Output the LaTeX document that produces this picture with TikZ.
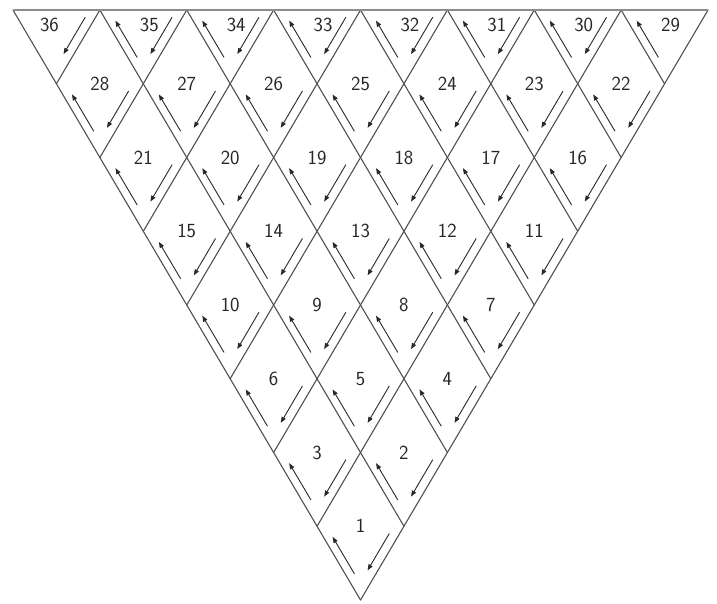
\documentclass[tikz,border=0pt]{standalone}
\usepackage{tikz}
\usetikzlibrary{arrows.meta}
\definecolor{cGrid}{RGB}{80,80,80}
\definecolor{cTop}{RGB}{140,140,140}
\definecolor{cArr}{RGB}{40,40,40}
\tikzset{
  gridline/.style={draw=cGrid,line width=1.1pt,line cap=round},
  topline/.style={draw=cTop,line width=2.2pt},
  uparr/.style={-{Triangle[length=6pt,width=4.5pt]},draw=cArr,line width=0.9pt},
  dnarr/.style={-{Triangle[length=6pt,width=4.5pt]},draw=cArr,line width=0.9pt},
  numlabel/.style={font=\sffamily\fontsize{20}{20}\selectfont,text=black!85,inner sep=0pt}
}

\begin{document}
\begin{tikzpicture}[x=1pt,y=-1pt]
  \useasboundingbox (0,0) rectangle (717,603);

  % Lattice: apex and half steps of one cell
  \def\ax{360.5}\def\ay{600}\def\hw{43.44}\def\hh{73.75}
  \coordinate (apex) at (\ax,\ay);
  \coordinate (tl) at (\ax-8*\hw,\ay-8*\hh);
  \coordinate (tr) at (\ax+8*\hw,\ay-8*\hh);

  % Grid lines
  \foreach \j in {0,...,7}
    \draw[gridline] (\ax+\j*\hw,\ay-\j*\hh) -- ++({-(8-\j)*\hw},{-(8-\j)*\hh});
  \foreach \i in {0,...,7}
    \draw[gridline] (\ax-\i*\hw,\ay-\i*\hh) -- ++({(8-\i)*\hw},{-(8-\i)*\hh});
  \draw[topline] (tl) -- (tr);

  % Cells: numbers and arrows
  \foreach \k in {1,...,8}{
    \foreach \p in {1,...,\k}{
      \pgfmathtruncatemacro{\n}{\k*(\k-1)/2+\p}
      \pgfmathsetmacro{\cx}{\ax+(\k+1-2*\p)*\hw}
      \pgfmathsetmacro{\cy}{\ay-\k*\hh}
      \coordinate (m\n) at (\cx,\cy);
      \ifnum\k<8
        \node[numlabel] (c\n) at (m\n) {\n};
      \else
        \ifnum\n=36
          \node[numlabel] (c\n) at ([shift={(-7,15)}]m\n) {\n};
        \else
          \node[numlabel] (c\n) at ([shift={(6,15)}]m\n) {\n};
        \fi
      \fi
      \ifnum\n=36\else
        \draw[uparr] ([shift={(-6.1,47.5)}]m\n) -- ([shift={(-27.9,10.65)}]m\n);
      \fi
      \ifnum\n=29\else
        \draw[dnarr] ([shift={(28.8,7.2)}]m\n) -- ([shift={(7.1,44.1)}]m\n);
      \fi
    }
  }

\end{tikzpicture}
\end{document}
